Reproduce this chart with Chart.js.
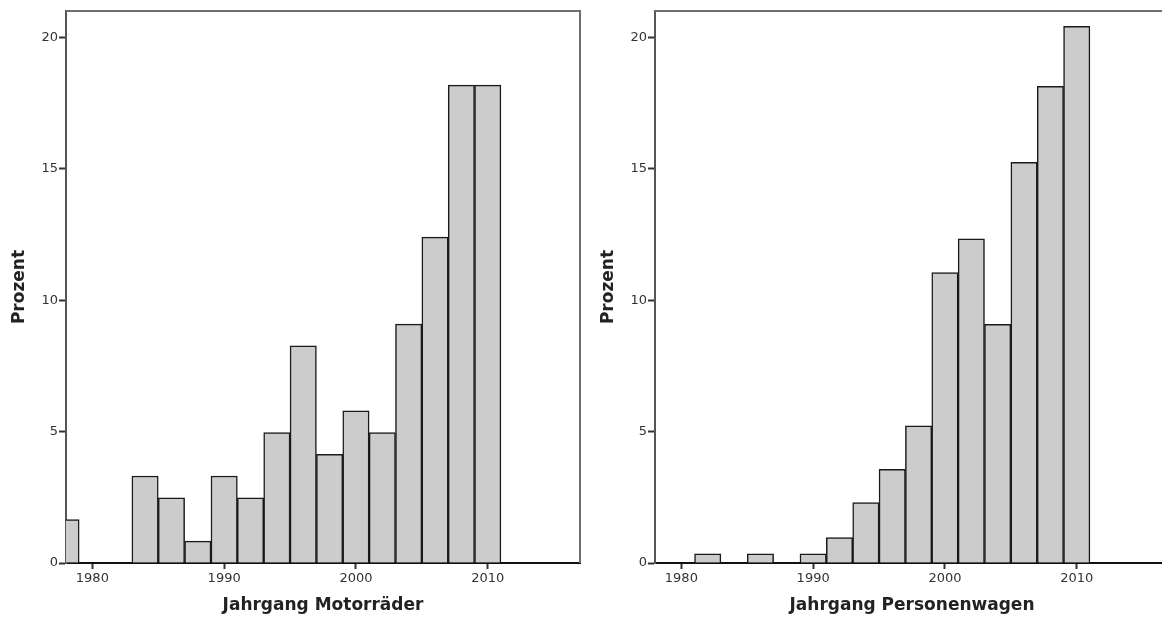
<!DOCTYPE html>
<html>
<head>
<meta charset="utf-8">
<script src="https://cdn.jsdelivr.net/npm/chart.js@4"></script>
<style>
  html, body { margin: 0; padding: 0; background: #fff; overflow: hidden; }
  #wrap { position: relative; width: 1162px; height: 618px; overflow: hidden; }
  .box { position: absolute; top: 0; width: 600px; height: 618px; }
</style>
</head>
<body>
<div id="wrap">
  <div class="box" style="left:0"><canvas id="chartMotorrad"></canvas></div>
  <div class="box" style="left:589px"><canvas id="chartPkw"></canvas></div>
</div>
<script>
// Klassenmitten (2-Jahres-Klassen)
const jahrgang = [1978, 1980, 1982, 1984, 1986, 1988, 1990, 1992, 1994, 1996, 1998, 2000, 2002, 2004, 2006, 2008, 2010];
// Prozent Motorräder
const motorraeder = [1.65, 0, 0, 3.31, 2.48, 0.83, 3.31, 2.48, 4.96, 8.26, 4.13, 5.79, 4.96, 9.09, 12.40, 18.18, 18.18];
// Prozent Personenwagen
const personenwagen = [0, 0, 0.35, 0, 0.35, 0, 0.35, 0.97, 2.30, 3.56, 5.22, 11.05, 12.33, 9.08, 15.24, 18.13, 20.42];

const xTicks = [1980, 1990, 2000, 2010];
const yTicks = [0, 5, 10, 15, 20];

// Rahmen oben und rechts
const framePlugin = {
  id: 'frame',
  afterDraw(chart) {
    const { ctx, chartArea: a } = chart;
    ctx.save();
    ctx.strokeStyle = '#6e6e6e';
    ctx.lineWidth = 2;
    ctx.beginPath();
    ctx.moveTo(a.left, a.top);
    ctx.lineTo(a.right, a.top);
    ctx.lineTo(a.right, a.bottom);
    ctx.stroke();
    ctx.restore();
  }
};

function makeHistogram(id, values, xTitle) {
  const ctx = document.getElementById(id).getContext('2d');
  return new Chart(ctx, {
    type: 'bar',
    data: {
      datasets: [{
        data: jahrgang.map((j, i) => ({ x: j, y: values[i] })),
        backgroundColor: '#cccccc',
        borderColor: '#1a1a1a',
        borderWidth: 1.5,
        borderSkipped: 'start',
        barPercentage: 1,
        categoryPercentage: 1
      }]
    },
    options: {
      responsive: false,
      animation: false,
      layout: { padding: { top: 11, right: 20, left: 0, bottom: 0 } },
      plugins: { legend: { display: false }, tooltip: { enabled: false } },
      scales: {
        x: {
          type: 'linear',
          min: 1978,
          max: 2017,
          offset: false,
          afterBuildTicks: s => { s.ticks = xTicks.map(v => ({ value: v })); },
          afterFit: s => { s.height = 55; s.paddingLeft = 0; s.paddingRight = 0; },
          grid: { display: true, drawOnChartArea: false, drawTicks: true, tickLength: 6, tickColor: '#333', tickWidth: 2, offset: false },
          border: { display: true, color: '#111', width: 2 },
          ticks: { padding: 2, color: '#333', font: { family: 'DejaVu Sans', size: 13 }, maxRotation: 0, callback: v => String(v) },
          title: { display: true, text: xTitle, color: '#222', padding: { top: 0, bottom: 2 }, font: { family: 'DejaVu Sans', size: 17, weight: 'bold' } }
        },
        y: {
          min: 0,
          max: 21,
          afterBuildTicks: s => { s.ticks = yTicks.map(v => ({ value: v })); },
          afterFit: s => { s.width = 66; },
          grid: { display: true, drawOnChartArea: false, drawTicks: true, tickLength: 7, tickColor: '#333', tickWidth: 2 },
          border: { display: true, color: '#555', width: 2 },
          ticks: { padding: 1, color: '#333', font: { family: 'DejaVu Sans', size: 13 } },
          title: { display: true, text: 'Prozent', color: '#222', padding: { top: 9, bottom: 0 }, font: { family: 'DejaVu Sans', size: 17, weight: 'bold' } }
        }
      }
    },
    plugins: [framePlugin]
  });
}

document.getElementById('chartMotorrad').width = 600;
document.getElementById('chartMotorrad').height = 618;
document.getElementById('chartPkw').width = 600;
document.getElementById('chartPkw').height = 618;

makeHistogram('chartMotorrad', motorraeder, 'Jahrgang Motorräder');
makeHistogram('chartPkw', personenwagen, 'Jahrgang Personenwagen');
</script>
</body>
</html>
